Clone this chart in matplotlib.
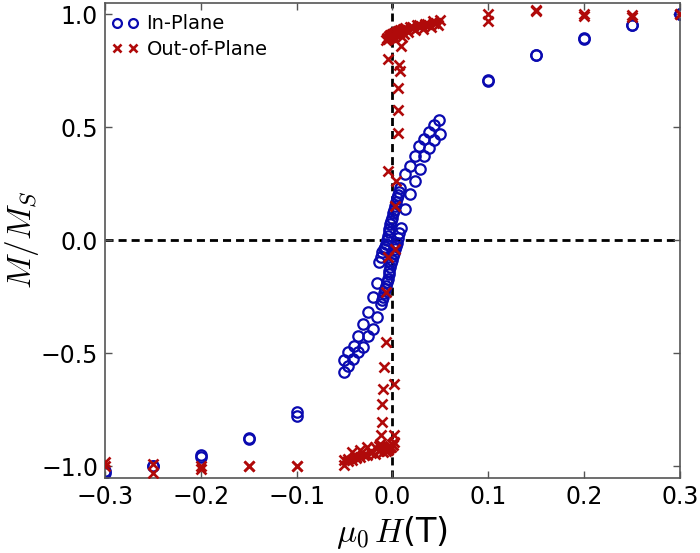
import matplotlib
matplotlib.use("Agg")
import matplotlib.pyplot as plt

plt.rcParams['mathtext.fontset'] = 'cm'
plt.rcParams['font.family'] = 'DejaVu Sans'
plt.rcParams['lines.scale_dashes'] = False

# In-plane loop, field going down (T) and M/Ms
ip_down_h = [0.30, 0.25, 0.20, 0.15, 0.10, 0.0484, 0.0432, 0.0387, 0.0334, 0.0282, 0.0240,
             0.0185, 0.0136, 0.0080, 0.0070, 0.0060, 0.0050, 0.0040, 0.0030, 0.0020, 0.0010,
             0.0000, -0.0010, -0.0020, -0.0030, -0.0040, -0.0050, -0.0060, -0.0070, -0.0080,
             -0.0090, -0.0104, -0.0120, -0.0136, -0.0160, -0.0206, -0.0258, -0.0303, -0.0355,
             -0.0404, -0.0460, -0.0509, -0.10, -0.15, -0.20, -0.25, -0.30]
ip_down_m = [1.00, 0.95, 0.89, 0.82, 0.71, 0.533, 0.511, 0.477, 0.448, 0.415, 0.371,
             0.327, 0.291, 0.230, 0.215, 0.200, 0.185, 0.170, 0.150, 0.135, 0.120,
             0.100, 0.085, 0.070, 0.050, 0.035, 0.020, 0.000, -0.015, -0.030,
             -0.040, -0.053, -0.075, -0.097, -0.191, -0.252, -0.319, -0.370, -0.421,
             -0.466, -0.495, -0.529, -0.758, -0.875, -0.95, -1.00, -1.02]

# In-plane loop, field going up
ip_up_h = [-0.30, -0.25, -0.20, -0.15, -0.10, -0.0500, -0.0467, -0.0415, -0.0355, -0.0310,
           -0.0258, -0.0206, -0.0160, -0.0118, -0.0110, -0.0100, -0.0090, -0.0080, -0.0070,
           -0.0060, -0.0050, -0.0040, -0.0030, -0.0020, -0.0010, 0.0000, 0.0010, 0.0020,
           0.0030, 0.0040, 0.0050, 0.0060, 0.0070, 0.0090, 0.0136, 0.0185, 0.0240, 0.0290,
           0.0334, 0.0387, 0.0439, 0.0498, 0.10, 0.15, 0.20, 0.25, 0.30]
ip_up_m = [-1.03, -1.00, -0.96, -0.88, -0.775, -0.583, -0.558, -0.524, -0.495, -0.473,
           -0.421, -0.392, -0.341, -0.282, -0.265, -0.250, -0.235, -0.215, -0.200,
           -0.185, -0.170, -0.150, -0.135, -0.120, -0.100, -0.085, -0.070, -0.055,
           -0.040, -0.025, -0.010, 0.010, 0.030, 0.056, 0.137, 0.203, 0.261, 0.316,
           0.371, 0.408, 0.442, 0.471, 0.703, 0.82, 0.895, 0.95, 1.00]

# Out-of-plane loop, field going down
op_down_h = [0.30, 0.25, 0.20, 0.15, 0.10, 0.050, 0.046, 0.042, 0.038, 0.034, 0.030,
             0.026, 0.022, 0.018, 0.014, 0.010, 0.008, 0.007, 0.006, 0.005, 0.004, 0.003,
             0.002, 0.001, 0.000, -0.001, -0.002, -0.003, -0.004, -0.005, -0.006, -0.0066,
             -0.005, -0.005, -0.005, -0.0066, -0.0066, -0.0084, -0.0101, -0.0110, -0.0110,
             -0.0120, -0.0125, -0.014, -0.018, -0.022, -0.026, -0.030, -0.034, -0.038,
             -0.042, -0.046, -0.050, -0.10, -0.15, -0.20, -0.25, -0.30]
op_down_m = [1.00, 0.995, 1.00, 1.02, 1.00, 0.975, 0.962, 0.968, 0.952, 0.958, 0.948,
             0.953, 0.938, 0.944, 0.932, 0.928, 0.930, 0.922, 0.925, 0.915, 0.920, 0.910,
             0.918, 0.905, 0.912, 0.900, 0.906, 0.895, 0.902, 0.890, 0.895, 0.885,
             0.800, 0.305, -0.076, -0.230, -0.450, -0.561, -0.656, -0.722, -0.803,
             -0.860, -0.900, -0.910, -0.912, -0.935, -0.915, -0.950, -0.925, -0.958,
             -0.935, -0.965, -0.972, -1.00, -1.00, -1.00, -0.99, -0.98]

# Out-of-plane loop, field going up
op_up_h = [-0.30, -0.25, -0.20, -0.15, -0.10, -0.050, -0.046, -0.042, -0.038, -0.034,
           -0.030, -0.026, -0.022, -0.018, -0.014, -0.010, -0.008, -0.007, -0.006, -0.005,
           -0.004, -0.003, -0.002, -0.001, 0.000, 0.001, 0.002, 0.002, 0.002, 0.0028,
           0.0028, 0.0038, 0.0056, 0.0063, 0.0063, 0.0073, 0.0084, 0.009, 0.010, 0.011,
           0.012, 0.013, 0.016, 0.020, 0.024, 0.028, 0.032, 0.036, 0.040, 0.044, 0.048,
           0.10, 0.15, 0.20, 0.25, 0.30]
op_up_m = [-1.00, -1.03, -1.01, -1.00, -1.00, -0.994, -0.975, -0.970, -0.962, -0.957,
           -0.948, -0.950, -0.940, -0.945, -0.930, -0.935, -0.925, -0.930, -0.920, -0.925,
           -0.915, -0.918, -0.908, -0.912, -0.900, -0.905, -0.890, -0.862, -0.634, -0.037,
           0.151, 0.261, 0.474, 0.577, 0.673, 0.775, 0.749, 0.860, 0.900, 0.935, 0.910,
           0.940, 0.920, 0.945, 0.930, 0.950, 0.935, 0.955, 0.945, 0.962, 0.950,
           0.97, 1.015, 0.99, 0.985, 1.00]

fig = plt.figure(figsize=(7, 5.53), dpi=100)
ax = fig.add_axes([0.15, 0.136, 0.821, 0.859])

ax.axhline(0, color='k', ls='--', lw=2, dashes=(5.8, 3.6), zorder=1)
ax.axvline(0, color='k', ls='--', lw=2, dashes=(5.8, 3.6), zorder=1)

blue = '#0a0ab0'
red = '#b00a0a'
ax.plot(ip_down_h + ip_up_h, ip_down_m + ip_up_m, 'o', ls='none', ms=7.5, mew=1.6,
        mfc='none', mec=blue, label='In-Plane', zorder=2)
ax.plot(op_down_h + op_up_h, op_down_m + op_up_m, 'x', ls='none', ms=7.5, mew=1.9,
        color=red, label='Out-of-Plane', zorder=3)

ax.set_xlim(-0.3, 0.3)
ax.set_ylim(-1.05, 1.05)
ax.set_xticks([-0.3, -0.2, -0.1, 0.0, 0.1, 0.2, 0.3])
ax.set_yticks([-1.0, -0.5, 0.0, 0.5, 1.0])
ax.tick_params(direction='in', top=True, right=True, length=5, width=1,
               labelsize=17, color='#555555', pad=5)
for sp in ax.spines.values():
    sp.set_color('#555555')
    sp.set_linewidth(1.2)

ax.set_xlabel(r'$\mu_0\,H$(T)', fontsize=24, labelpad=4)
ax.set_ylabel(r'$M/M_S$', fontsize=24, labelpad=0)

ax.legend(loc='upper left', bbox_to_anchor=(-0.009, 1.0), numpoints=2, frameon=False,
          fontsize=14, markerscale=0.85, handlelength=1.4, handletextpad=0.4,
          borderaxespad=0.1, borderpad=0.5, labelspacing=0.35)

fig.savefig('out.png', dpi=100)
